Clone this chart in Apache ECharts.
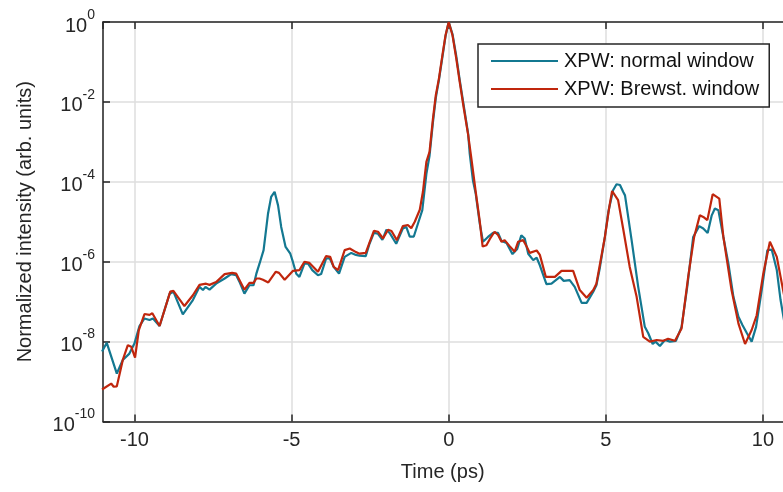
<!DOCTYPE html>
<html>
<head>
<meta charset="utf-8">
<script src="https://cdn.jsdelivr.net/npm/echarts@6/dist/echarts.min.js"></script>
<style>
html,body{margin:0;padding:0;background:#fff;}
#chart{width:783px;height:492px;}
</style>
</head>
<body>
<div id="chart"></div>
<script>
// Time (ps) and log10(normalized intensity)
const seriesNames = ['XPW: normal window', 'XPW: Brewst. window'];
const xTickLabels = [-10, -5, 0, 5, 10];

const blueTime = [-11.03,-10.88,-10.56,-10.37,-10.16,-10.00,-9.84,-9.68,-9.52,-9.41,
-9.20,-8.88,-8.76,-8.46,-8.14,-7.93,-7.82,-7.74,-7.61,-7.40,
-7.13,-6.92,-6.76,-6.66,-6.50,-6.34,-6.21,-6.12,-6.02,-5.89,
-5.75,-5.65,-5.54,-5.43,-5.33,-5.19,-5.04,-4.96,-4.85,-4.75,
-4.59,-4.48,-4.34,-4.16,-4.06,-3.90,-3.79,-3.66,-3.49,-3.31,
-3.10,-2.95,-2.84,-2.64,-2.52,-2.38,-2.25,-2.11,-1.98,-1.88,
-1.67,-1.46,-1.35,-1.24,-1.11,-0.98,-0.84,-0.71,-0.61,-0.50,
-0.41,-0.31,-0.20,-0.10,0.00,0.12,0.24,0.35,0.48,0.62,
0.67,0.77,0.86,0.99,1.09,1.25,1.41,1.57,1.68,1.84,
2.03,2.18,2.31,2.42,2.53,2.69,2.80,2.90,3.11,3.27,
3.38,3.54,3.66,3.85,4.01,4.23,4.39,4.60,4.70,4.81,
4.97,5.08,5.23,5.34,5.45,5.55,5.61,5.82,6.03,6.24,
6.35,6.49,6.58,6.72,6.88,7.04,7.23,7.41,7.59,7.78,
7.97,8.10,8.24,8.37,8.47,8.58,8.74,8.90,9.06,9.22,
9.35,9.49,9.64,9.78,9.96,10.14,10.28,10.44,10.56,10.70];

const blueLog10 = [-8.25,-8.03,-8.80,-8.46,-8.30,-8.05,-7.61,-7.42,-7.46,-7.42,
-7.61,-6.80,-6.75,-7.32,-6.96,-6.63,-6.71,-6.63,-6.70,-6.55,
-6.42,-6.31,-6.34,-6.50,-6.80,-6.59,-6.59,-6.30,-6.05,-5.71,
-4.80,-4.38,-4.25,-4.59,-5.13,-5.63,-5.80,-6.00,-6.30,-6.38,
-6.05,-6.04,-6.21,-6.34,-6.31,-5.92,-5.91,-6.13,-6.30,-5.88,
-5.78,-5.83,-5.85,-5.86,-5.55,-5.28,-5.30,-5.45,-5.20,-5.28,
-5.55,-5.17,-5.13,-5.37,-5.37,-5.05,-4.71,-3.80,-3.35,-2.50,
-1.90,-1.45,-0.88,-0.35,0.00,-0.30,-0.85,-1.45,-2.10,-2.80,
-3.30,-3.96,-4.30,-5.05,-5.50,-5.38,-5.28,-5.28,-5.48,-5.53,
-5.81,-5.68,-5.34,-5.42,-5.80,-5.96,-5.90,-6.09,-6.56,-6.55,
-6.48,-6.38,-6.48,-6.46,-6.63,-7.03,-7.03,-6.75,-6.59,-6.15,
-5.38,-4.75,-4.21,-4.06,-4.08,-4.25,-4.34,-5.46,-6.63,-7.63,
-7.79,-8.06,-8.00,-8.11,-7.96,-8.00,-7.98,-7.63,-6.63,-5.38,
-5.11,-5.17,-5.28,-4.84,-4.67,-4.71,-5.38,-6.05,-6.88,-7.38,
-7.59,-7.79,-8.00,-7.63,-6.71,-5.71,-5.70,-6.21,-6.96,-7.60];

const redTime = [-11.03,-10.74,-10.66,-10.56,-10.37,-10.21,-10.10,-9.98,-9.86,-9.68,
-9.52,-9.43,-9.20,-8.86,-8.76,-8.41,-8.14,-7.93,-7.72,-7.61,
-7.40,-7.13,-6.89,-6.76,-6.50,-6.34,-6.21,-6.12,-6.02,-5.91,
-5.74,-5.50,-5.40,-5.22,-4.96,-4.75,-4.59,-4.43,-4.16,-3.90,
-3.77,-3.66,-3.52,-3.31,-3.15,-2.95,-2.84,-2.64,-2.52,-2.38,
-2.25,-2.09,-1.93,-1.82,-1.65,-1.46,-1.30,-1.19,-1.08,-0.92,
-0.82,-0.71,-0.61,-0.50,-0.41,-0.31,-0.20,-0.10,0.00,0.12,
0.24,0.35,0.48,0.62,0.72,0.86,0.99,1.08,1.20,1.31,
1.46,1.57,1.68,1.78,1.94,2.10,2.21,2.37,2.48,2.58,
2.80,2.90,3.09,3.38,3.59,3.96,4.17,4.39,4.60,4.70,
4.97,5.11,5.20,5.39,5.55,5.76,5.98,6.19,6.40,6.62,
6.83,6.98,7.20,7.41,7.62,7.81,7.99,8.10,8.23,8.40,
8.61,8.74,9.00,9.22,9.43,9.64,9.80,10.01,10.22,10.44,
10.64,10.70];

const redLog10 = [-9.20,-9.05,-9.13,-9.12,-8.46,-8.09,-8.13,-8.40,-7.71,-7.31,
-7.33,-7.29,-7.61,-6.75,-6.73,-7.11,-6.84,-6.58,-6.55,-6.58,
-6.51,-6.31,-6.28,-6.30,-6.70,-6.53,-6.53,-6.42,-6.42,-6.45,
-6.52,-6.25,-6.28,-6.45,-6.23,-6.21,-6.00,-6.03,-6.25,-5.86,
-5.88,-6.13,-6.21,-5.71,-5.67,-5.76,-5.80,-5.78,-5.52,-5.23,
-5.25,-5.42,-5.20,-5.23,-5.46,-5.11,-5.08,-5.16,-5.00,-4.70,
-4.25,-3.50,-3.25,-2.41,-1.83,-1.41,-0.83,-0.33,0.00,-0.33,
-0.91,-1.50,-2.16,-2.83,-3.41,-4.25,-5.00,-5.62,-5.59,-5.43,
-5.25,-5.33,-5.50,-5.46,-5.61,-5.75,-5.50,-5.46,-5.62,-5.78,
-5.72,-5.83,-6.38,-6.38,-6.23,-6.23,-6.71,-6.90,-6.71,-6.55,
-5.38,-4.63,-4.23,-4.46,-5.17,-6.13,-6.88,-7.88,-8.00,-7.96,
-7.98,-7.93,-7.98,-7.67,-6.38,-5.38,-4.84,-4.88,-4.96,-4.31,
-4.42,-5.38,-6.71,-7.55,-8.06,-7.71,-7.34,-6.30,-5.50,-5.88,
-6.71,-6.95];

function pairs(ts, ls) { return ts.map((t, i) => [t, Math.pow(10, ls[i])]); }

const FONT = '"Liberation Sans", Arial, Helvetica, sans-serif';
const TXT = '#262626';
const AX = '#262626';
const GRID = '#dedede';

const chart = echarts.init(document.getElementById('chart'), null, {renderer: 'canvas'});
chart.setOption({
  animation: false,
  backgroundColor: '#ffffff',
  textStyle: {fontFamily: FONT},
  grid: {left: 103, top: 22, height: 399.5, width: 691.4, containLabel: false, outerBoundsMode: 'none'},
  legend: {
    orient: 'vertical',
    left: 478, top: 44,
    padding: [7, 10, 8, 13],
    itemGap: 8,
    itemWidth: 67, itemHeight: 2,
    icon: 'rect',
    backgroundColor: '#ffffff',
    borderColor: AX, borderWidth: 1.5, borderRadius: 0,
    textStyle: {fontSize: 20, color: '#111', fontFamily: FONT, padding: [0,0,0,1]},
    data: seriesNames
  },
  xAxis: [{
    type: 'value', min: -11, max: 11, splitNumber: 5,
    name: 'Time (ps)', nameLocation: 'middle', nameGap: 41,
    nameTextStyle: {fontSize: 20, color: TXT, fontFamily: FONT, padding: [0, 12, 0, 0]},
    axisLine: {show: true, onZero: false, lineStyle: {color: AX, width: 1.5}},
    axisTick: {show: true, inside: true, length: 7, lineStyle: {color: AX, width: 1.5}},
    axisLabel: {fontSize: 20, color: TXT, margin: 9, showMinLabel: false, showMaxLabel: false, fontFamily: FONT,
      formatter: v => (xTickLabels.indexOf(v) >= 0 ? String(v) : '')},
    splitLine: {show: true, lineStyle: {color: GRID, width: 1.5}}
  }, {
    type: 'value', position: 'top', min: -11, max: 11, splitNumber: 5,
    axisLine: {show: true, onZero: false, lineStyle: {color: AX, width: 1.5}},
    axisTick: {show: true, inside: true, length: 7, lineStyle: {color: AX, width: 1.5}},
    axisLabel: {show: false},
    splitLine: {show: false}
  }],
  yAxis: [{
    type: 'log', logBase: 10, min: 1e-10, max: 1, interval: 2,
    name: 'Normalized intensity (arb. units)', nameLocation: 'middle', nameGap: 68,
    nameTextStyle: {fontSize: 20, color: TXT, fontFamily: FONT},
    axisLine: {show: true, onZero: false, lineStyle: {color: AX, width: 1.5}},
    axisTick: {show: true, inside: true, length: 7, lineStyle: {color: AX, width: 1.5}},
    axisLabel: {
      margin: 8,
      formatter: v => '{b|10}{s|' + Math.round(Math.log10(v)) + '}',
      rich: {
        b: {fontSize: 20, color: TXT, fontFamily: FONT, verticalAlign: 'bottom', lineHeight: 28},
        s: {fontSize: 14, color: TXT, fontFamily: FONT, verticalAlign: 'top', lineHeight: 16}
      }
    },
    splitLine: {show: true, lineStyle: {color: GRID, width: 1.5}}
  }],
  series: [{
    name: seriesNames[0], type: 'line', xAxisIndex: 0, yAxisIndex: 0,
    data: pairs(blueTime, blueLog10),
    showSymbol: false, symbol: 'none',
    lineStyle: {color: '#137891', width: 2.2},
    itemStyle: {color: '#137891'}
  }, {
    name: seriesNames[1], type: 'line', xAxisIndex: 0, yAxisIndex: 0,
    data: pairs(redTime, redLog10),
    showSymbol: false, symbol: 'none',
    lineStyle: {color: '#c0260d', width: 2.2},
    itemStyle: {color: '#c0260d'}
  }]
});
</script>
</body>
</html>
